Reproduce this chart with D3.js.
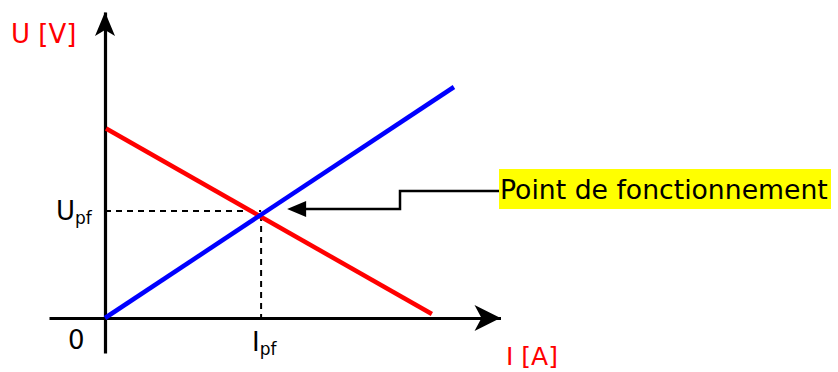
<!DOCTYPE html>
<html>
<head>
  <meta charset="utf-8">
  <title>Point de fonctionnement</title>
  <style>
    body { margin: 0; background: #fff; }
    text { font-family: "Comic Sans MS", "DejaVu Sans", sans-serif; }
  </style>
</head>
<body>
  <script src="https://d3js.org/d3.v7.min.js"></script>
  <script>
    // courbe du générateur (rouge) et du récepteur (bleue)
    var redI = [0.03, 9.34],
      redU = [8.2, 0.17];
    var blueI = [0, 9.97],
      blueU = [0, 10];
    // point de fonctionnement
    var pfI = [4.46],
      pfU = [4.55];
    var axisI = [-1.6, 11.3],
      axisU = [-1.52, 13.25];

    var width = 838, height = 372;

    var x = d3.scaleLinear().domain([0, 10]).range([105, 455]);
    var y = d3.scaleLinear().domain([0, 10]).range([318, 87]);

    var svg = d3.select('body').append('svg')
      .attr('width', width)
      .attr('height', height);

    var line = d3.line()
      .x(d => x(d[0]))
      .y(d => y(d[1]));

    // axes sans graduations
    var xAxisScale = x.copy().domain(axisI).range(axisI.map(x));
    var yAxisScale = y.copy().domain(axisU).range(axisU.map(y));

    var gx = svg.append('g')
      .attr('transform', `translate(0,${y(0)})`)
      .call(d3.axisBottom(xAxisScale).tickValues([]).tickSizeOuter(0));
    gx.select('.domain').attr('stroke', '#000').attr('stroke-width', 3.2);

    var gy = svg.append('g')
      .attr('transform', `translate(${x(0)},0)`)
      .call(d3.axisLeft(yAxisScale).tickValues([]).tickSizeOuter(0));
    gy.select('.domain').attr('stroke', '#000').attr('stroke-width', 3.2);

    // pointes de flèches
    var xt = xAxisScale(axisI[1]), yt = yAxisScale(axisU[1]);
    svg.append('path')
      .attr('d', `M${xt},${y(0)} L${xt - 26},${y(0) - 13} L${xt - 19},${y(0)} L${xt - 26},${y(0) + 13} Z`)
      .attr('fill', '#000');
    svg.append('path')
      .attr('d', `M${x(0)},${yt} L${x(0) - 10},${yt + 24} L${x(0)},${yt + 18} L${x(0) + 10},${yt + 24} Z`)
      .attr('fill', '#000');

    // pointillés
    var px = x(pfI[0]), py = y(pfU[0]);
    svg.append('line')
      .attr('x1', x(0)).attr('x2', px)
      .attr('y1', py - 2).attr('y2', py - 2)
      .attr('stroke', '#000').attr('stroke-width', 2)
      .attr('stroke-dasharray', '6,5');
    svg.append('line')
      .attr('x1', px).attr('x2', px)
      .attr('y1', py + 2).attr('y2', y(0))
      .attr('stroke', '#000').attr('stroke-width', 2)
      .attr('stroke-dasharray', '6,5');

    // droites
    svg.append('path')
      .datum(d3.zip(redI, redU))
      .attr('d', line)
      .attr('fill', 'none')
      .attr('stroke', '#ff0000')
      .attr('stroke-width', 4.5);
    svg.append('path')
      .datum(d3.zip(blueI, blueU))
      .attr('d', line)
      .attr('fill', 'none')
      .attr('stroke', '#0000ff')
      .attr('stroke-width', 4.5);

    // étiquettes
    svg.append('text').text('U [V]')
      .attr('x', 11).attr('y', 43)
      .attr('font-size', 26).attr('fill', '#ff0000');

    svg.append('text')
      .attr('x', 506).attr('y', 365)
      .attr('font-size', 25).attr('fill', '#ff0000')
      .text('I [A]');

    svg.append('text').text('0')
      .attr('x', 68).attr('y', 349)
      .attr('font-size', 26).attr('fill', '#000');

    var upf = svg.append('text')
      .attr('x', 56).attr('y', 220)
      .attr('font-size', 26).attr('fill', '#000');
    upf.append('tspan').text('U');
    upf.append('tspan').text('pf').attr('font-size', 17).attr('dy', 4);

    var ipf = svg.append('text')
      .attr('x', 252).attr('y', 351)
      .attr('font-size', 26).attr('fill', '#000');
    ipf.append('tspan').text('I');
    ipf.append('tspan').text('pf').attr('font-size', 17).attr('dy', 4);

    // annotation
    var ay = py - 4;
    svg.append('path')
      .attr('d', `M${px + 40},${ay} H400 V191 H499`)
      .attr('fill', 'none')
      .attr('stroke', '#000')
      .attr('stroke-width', 2.5);
    svg.append('path')
      .attr('d', `M${px + 26},${ay} L${px + 45},${ay - 8} L${px + 45},${ay + 8} Z`)
      .attr('fill', '#000');

    svg.append('rect')
      .attr('x', 499).attr('y', 169)
      .attr('width', 332).attr('height', 40)
      .attr('fill', '#ffff00');
    var label = svg.append('text')
      .attr('x', 500).attr('y', 199)
      .attr('font-size', 28)
      .attr('fill', '#000')
      .text('Point de fonctionnement');
    // ajuster la taille pour tenir dans le cadre jaune
    var len = label.node().getComputedTextLength();
    label.attr('font-size', Math.min(28, 28 * 328 / len));
  </script>
</body>
</html>
